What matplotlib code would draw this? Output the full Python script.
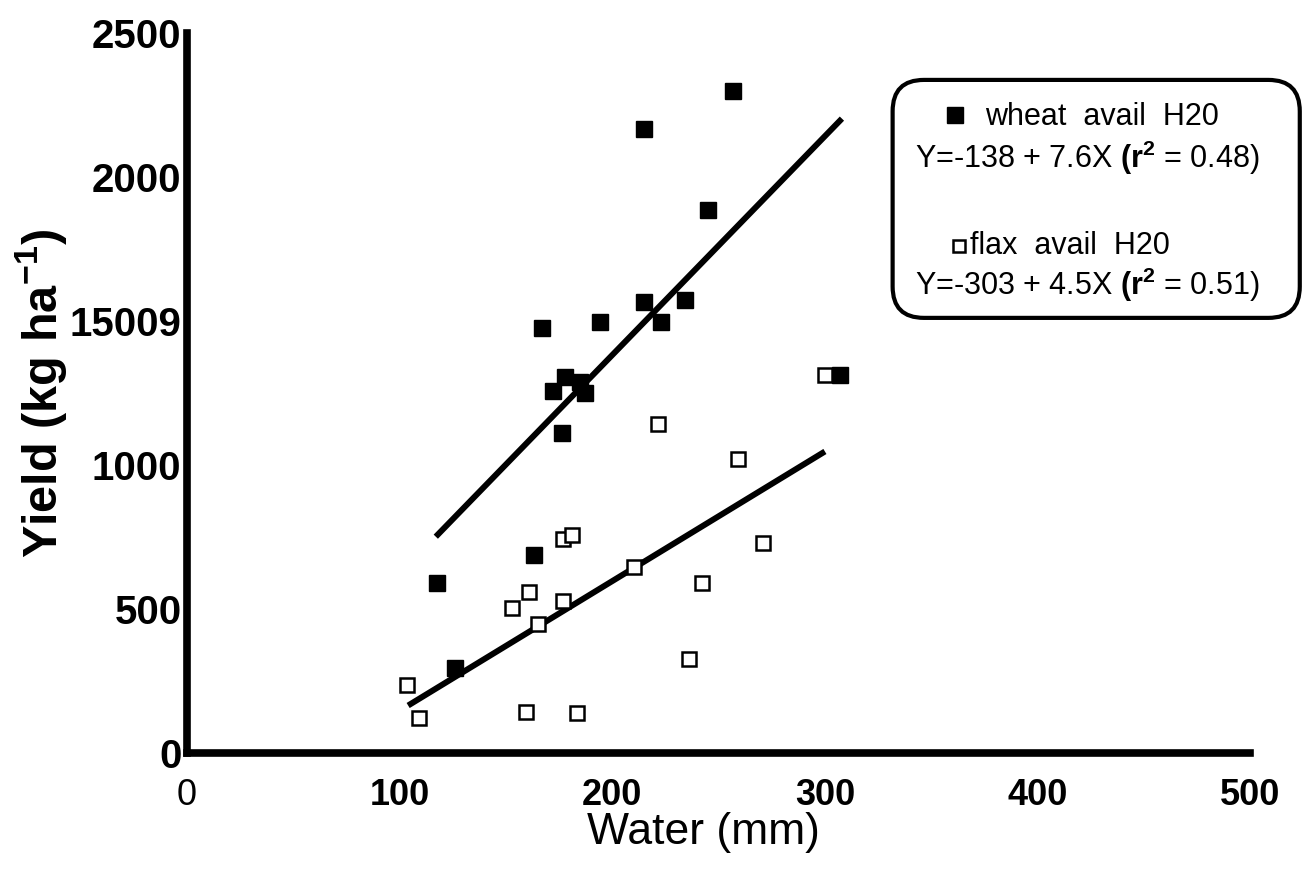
import numpy as np
import matplotlib.pyplot as plt
from matplotlib.patches import FancyBboxPatch
from matplotlib.lines import Line2D

plt.rcParams['font.family'] = ['Liberation Sans', 'DejaVu Sans']
plt.rcParams['mathtext.fontset'] = 'custom'
plt.rcParams['mathtext.rm'] = 'Liberation Sans'
plt.rcParams['mathtext.bf'] = 'Liberation Sans:bold'

# wheat (filled squares)
wheat_x = [117.6, 126, 163, 176.5, 172, 178, 185, 187, 167, 194, 215, 223, 234, 245, 215, 257, 307]
wheat_y = [590, 295, 687, 1111, 1257, 1306, 1288, 1250, 1476, 1497, 1566, 1497, 1573, 1885, 2167, 2299, 1312]
# flax (open squares)
flax_x = [103.5, 109, 159.5, 183.5, 153, 161, 165, 177, 177, 181, 210, 242, 236, 271, 221.6, 259, 300]
flax_y = [236, 121, 142, 139, 503, 559, 448, 528, 743, 757, 646, 590, 326, 729, 1142, 1021, 1313]

# regression fits: intercept, slope, x start, x end
wheat_fit = (-138, 7.6, 117, 308)
flax_fit = (-303, 4.5, 104, 300)

xticks = [0, 100, 200, 300, 400, 500]
yticks = [0, 500, 1000, 1500, 2000, 2500]
ytick_labels = ['0', '500', '1000', '15009', '2000', '2500']

fig = plt.figure(figsize=(13.05, 8.83), dpi=100)
ax = fig.add_axes([0.1433, 0.1472, 0.8147, 0.8154])

ax.plot(wheat_x, wheat_y, 's', color='black', markersize=11, zorder=3)
ax.plot(flax_x, flax_y, 's', markerfacecolor='white', markeredgecolor='black',
        markeredgewidth=1.8, markersize=10, zorder=3)

for a, b, x0, x1 in [wheat_fit, flax_fit]:
    xs = np.array([x0, x1])
    ax.plot(xs, a + b * xs, color='black', linewidth=4.3, solid_capstyle='butt', zorder=2)

ax.set_xlim(0, 500)
ax.set_ylim(0, 2500)
for s in ['top', 'right']:
    ax.spines[s].set_visible(False)
for s in ['left', 'bottom']:
    ax.spines[s].set_linewidth(5.5)

ax.set_xticks(xticks)
ax.set_xticklabels([str(t) for t in xticks], fontsize=26, fontweight='bold')
ax.get_xticklabels()[0].set_fontweight('normal')
ax.set_yticks(yticks)
ax.set_yticklabels(ytick_labels, fontsize=29, fontweight='bold')
ax.tick_params(axis='x', which='major', length=0, pad=18)
ax.tick_params(axis='y', which='major', length=0, pad=4)
ax.set_xticks([0, 100], minor=True)
ax.set_yticks([0], minor=True)
ax.tick_params(which='minor', length=9, width=5.5)

ax.set_xlabel('Water (mm)', fontsize=32)
ax.xaxis.set_label_coords(0.486, -0.082)
ax.set_ylabel(r'Yield (kg ha$^{\mathbf{-1}}$)', fontsize=35, fontweight='bold')
ax.yaxis.set_label_coords(-0.111, 0.5)

# legend box
box = FancyBboxPatch((0.684, 0.640), 0.312, 0.2695, transform=fig.transFigure,
                     boxstyle='round,pad=0,rounding_size=0.024', facecolor='white',
                     edgecolor='black', linewidth=3.0, zorder=1, mutation_aspect=1.478)
fig.patches.append(box)
fs = 22
fig.text(0.7548, 0.8675, 'wheat  avail  H20', fontsize=fs, ha='left', va='center', zorder=2)
fig.text(0.7011, 0.821, r'Y=-138 + 7.6X $\mathbf{(r^2}$ = 0.48)', fontsize=fs,
         ha='left', va='center', zorder=2)
fig.text(0.7433, 0.7214, 'flax  avail  H20', fontsize=fs, ha='left', va='center', zorder=2)
fig.text(0.7011, 0.6772, r'Y=-303 + 4.5X $\mathbf{(r^2}$ = 0.51)', fontsize=fs,
         ha='left', va='center', zorder=2)
fig.add_artist(Line2D([0.7318], [0.8698], marker='s', color='black', markersize=11,
                      linestyle='none', transform=fig.transFigure, zorder=3))
fig.add_artist(Line2D([0.7349], [0.7214], marker='s', markerfacecolor='white', markeredgecolor='black',
                      markeredgewidth=1.8, markersize=9, linestyle='none',
                      transform=fig.transFigure, zorder=3))

fig.savefig('out.png', dpi=100)
